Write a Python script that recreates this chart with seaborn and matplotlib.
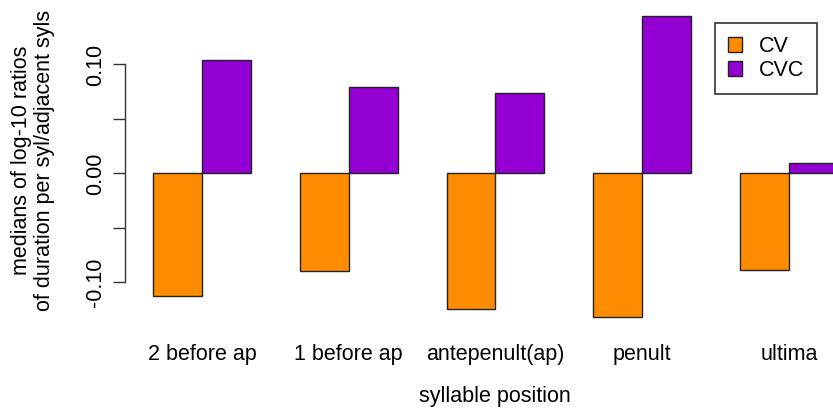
import numpy as np
import pandas as pd
import matplotlib
matplotlib.use("Agg")
import matplotlib.pyplot as plt
import seaborn as sns

# Median log-10 duration ratios per syllable position
positions = ["2 before ap", "1 before ap", "antepenult(ap)", "penult", "ultima"]
cv_values = [-0.1124, -0.0894, -0.1243, -0.1317, -0.0885]
cvc_values = [0.1041, 0.0794, 0.0739, 0.1445, 0.0096]
syllable_types = ["CV", "CVC"]
type_colors = {"CV": "#FF8C00", "CVC": "#9400D3"}
ytick_values = [-0.10, -0.05, 0.00, 0.05, 0.10]
ytick_labels = ["-0.10", "", "0.00", "", "0.10"]

df = pd.DataFrame({
    "position": positions * 2,
    "type": ["CV"] * len(positions) + ["CVC"] * len(positions),
    "value": cv_values + cvc_values,
})

sns.set_theme(style="ticks", rc={
    "text.color": "black",
    "axes.labelcolor": "black",
    "xtick.color": "black",
    "ytick.color": "black",
})
plt.rcParams["font.family"] = ["Liberation Sans", "DejaVu Sans"]
FS = 15.5

W, H = 833, 411
fig = plt.figure(figsize=(W / 100, H / 100), dpi=100)

# plot region in pixel terms
left_px, right_px = 125, 833
ylim = (-0.145, 0.16)
zero_px, px_per_unit = 173.5, 1090.0
top_px = zero_px - ylim[1] * px_per_unit
bot_px = zero_px - ylim[0] * px_per_unit
ax = fig.add_axes([left_px / W, 1 - bot_px / H,
                   (right_px - left_px) / W, (bot_px - top_px) / H])

sns.barplot(data=df, x="position", y="value", hue="type",
            order=positions, hue_order=syllable_types, palette=type_colors,
            saturation=1, width=2 / 3, gap=0, edgecolor="#222222",
            linewidth=1.0, errorbar=None, ax=ax)

group_px = 146.75
x0_px = 202
ax.set_xlim(-(x0_px - left_px) / group_px,
            -(x0_px - left_px) / group_px + (right_px - left_px) / group_px)
ax.set_ylim(*ylim)

# axes: only a bounded y axis line, as in base graphics
for side in ["top", "right", "bottom"]:
    ax.spines[side].set_visible(False)
ax.spines["left"].set_bounds(-0.10, 0.10)
ax.spines["left"].set_color("#333333")
ax.spines["left"].set_linewidth(1.0)

ax.set_yticks(ytick_values)
ax.set_yticklabels(ytick_labels, rotation=90, va="center", fontsize=FS)
ax.tick_params(axis="y", length=8.6, width=1.0, color="#333333", pad=5)
ax.tick_params(axis="x", length=0, pad=9, labelsize=FS)

ax.set_xlabel("syllable position", fontsize=FS)
xlab_px = (573 + 417) / 2
ax.xaxis.set_label_coords((xlab_px - left_px) / (right_px - left_px),
                          -(396 - bot_px) / (bot_px - top_px),
                          transform=ax.transAxes)
ax.xaxis.label.set_va("center")
ax.set_ylabel("")

fig.text(33 / W, 1 - 160 / H,
         "medians of log-10 ratios\nof duration per syl/adjacent syls",
         rotation=90, ha="center", va="center", multialignment="center",
         fontsize=FS, linespacing=1.1)

handles, labels = ax.get_legend_handles_labels()
ax.legend(handles, labels, loc="upper left",
          bbox_to_anchor=(715 / W, 1 - 23 / H), bbox_transform=fig.transFigure,
          borderaxespad=0, frameon=True, fancybox=False, edgecolor="black",
          fontsize=FS, handlelength=0.65, handleheight=0.65,
          handletextpad=0.8, borderpad=0.6, labelspacing=0.15)
ax.get_legend().get_frame().set_linewidth(1.2)

fig.savefig("out.png", dpi=100, facecolor="white")
